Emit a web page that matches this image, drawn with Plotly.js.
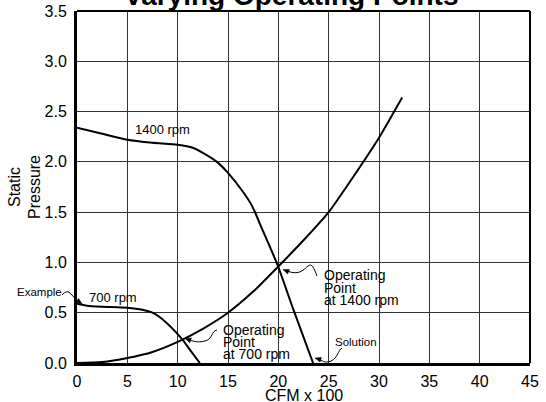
<!DOCTYPE html>
<html>
<head>
<meta charset="utf-8">
<script src="https://cdn.plot.ly/plotly-3.0.1.min.js"></script>
<style>html,body{margin:0;padding:0;background:#fff}#chart{width:546px;height:402px}</style>
</head>
<body>
<div id="chart"></div>
<script>
// ---- data ----
const fan1400X = [0, 2.5, 5, 7.5, 10, 11.5, 12.5, 13.9, 15, 16.5, 17.4, 18.4, 19.9, 21.5, 23.45];
const fan1400Y = [2.34, 2.28, 2.22, 2.19, 2.17, 2.14, 2.09, 2.00, 1.89, 1.70, 1.56, 1.33, 0.98, 0.53, 0.0];
const fan700X = [0, 1, 2.5, 5, 6.5, 7.5, 8.3, 9.2, 10.5, 11.3, 12.2];
const fan700Y = [0.59, 0.57, 0.56, 0.55, 0.53, 0.50, 0.45, 0.37, 0.23, 0.12, 0.0];
const systemX = [0, 2.5, 5, 7.5, 10, 12.5, 15, 17.5, 20, 22.5, 25, 27.5, 30, 32.3];
const systemY = [0, 0.01, 0.05, 0.11, 0.21, 0.34, 0.50, 0.71, 0.96, 1.22, 1.50, 1.86, 2.24, 2.64];
const xTicks = [0, 5, 10, 15, 20, 25, 30, 35, 40, 45];
const yTicks = [0, 0.5, 1.0, 1.5, 2.0, 2.5, 3.0, 3.5];

const W = 546, H = 402;
const M = {l: 77, r: 16, t: 11, b: 39};
const PW = W - M.l - M.r, PH = H - M.t - M.b;
const px = X => (X - M.l) / PW;
const py = Y => (H - M.b - Y) / PH;

const FONT = 'Liberation Sans, Arial, Helvetica, sans-serif';
const lineStyle = {color: 'black', width: 2, shape: 'spline', smoothing: 0.6};

const traces = [
  {x: fan1400X, y: fan1400Y, mode: 'lines', line: lineStyle, name: '1400 rpm', hoverinfo: 'skip'},
  {x: fan700X, y: fan700Y, mode: 'lines', line: lineStyle, name: '700 rpm', hoverinfo: 'skip'},
  {x: systemX, y: systemY, mode: 'lines', line: lineStyle, name: 'System', hoverinfo: 'skip'}
];

// decorative squiggle arrows (pixel positions -> paper)
function pathFrom(cmds) {
  return cmds.map(c => c[0] + ' ' + c.slice(1).reduce((a, v, i) => {
    if (i % 2 === 0) a.push(px(v).toFixed(5)); else a.push(py(v).toFixed(5));
    return a;
  }, []).join(' ')).join(' ');
}
function head(tail, tip) {
  const dx = tip[0] - tail[0], dy = tip[1] - tail[1];
  const L = Math.hypot(dx, dy), ux = dx / L, uy = dy / L;
  const bx = tip[0] - ux * 6, by = tip[1] - uy * 6;
  const nx = -uy * 2.4, ny = ux * 2.4;
  return 'M ' + px(tip[0]) + ' ' + py(tip[1]) + ' L ' + px(bx + nx) + ' ' + py(by + ny) +
         ' L ' + px(bx - nx) + ' ' + py(by - ny) + ' Z';
}
const squiggles = [
  {p: [['M', 62, 295], ['Q', 67, 289, 71, 294], ['T', 80, 302.5]], tail: [76, 299.5], tip: [82, 304]},
  {p: [['M', 217, 330], ['C', 211, 331, 213, 339, 205, 341], ['S', 193, 341, 188, 339.5]], tail: [191, 340.5], tip: [185, 338.5]},
  {p: [['M', 317, 276], ['C', 314, 268, 312, 263, 308, 266], ['S', 300, 276, 287, 271]], tail: [289, 272], tip: [283, 269.5]},
  {p: [['M', 342, 348], ['C', 338, 350, 338, 358, 331, 361], ['S', 322, 360, 318.5, 359]], tail: [321, 359.8], tip: [315, 358]}
];
const shapes = [];
squiggles.forEach(s => {
  shapes.push({type: 'path', xref: 'paper', yref: 'paper', path: pathFrom(s.p), line: {color: 'black', width: 1}});
  shapes.push({type: 'path', xref: 'paper', yref: 'paper', path: head(s.tail, s.tip), line: {color: 'black', width: 0.5}, fillcolor: 'black'});
});
// top and right frame
shapes.push({type: 'line', xref: 'paper', yref: 'paper', x0: 0, x1: 1, y0: 1, y1: 1, line: {color: 'black', width: 2}});
shapes.push({type: 'line', xref: 'paper', yref: 'paper', x0: 1, x1: 1, y0: 0, y1: 1, line: {color: 'black', width: 2}});

function txt(text, X, Y, size, anchor) {
  return {text: text, xref: 'paper', yref: 'paper', x: px(X), y: py(Y), showarrow: false,
          xanchor: anchor || 'center', yanchor: 'middle', borderpad: 0,
          font: {family: FONT, size: size, color: 'black'}};
}
const annotations = [
  {text: '<b>Varying Operating Points</b>', xref: 'paper', yref: 'paper', x: px(291.5), y: py(-4.5),
   showarrow: false, xanchor: 'center', yanchor: 'middle', font: {family: FONT, size: 28, color: 'black'}},
  txt('CFM x 100', 303.5, 395.3, 16),
  txt('1400 rpm', 162, 129, 13),
  txt('700 rpm', 113.3, 297.3, 13),
  txt('Example', 39.5, 291.7, 11.5),
  txt('Solution', 356, 341.7, 11.5),
  txt('Operating', 221.7, 330, 14, 'left'),
  txt('Point', 221.7, 342, 14, 'left'),
  txt('at 700 rpm', 221.7, 353.5, 14, 'left'),
  txt('Operating', 322.7, 275.3, 14, 'left'),
  txt('Point', 322.7, 288, 14, 'left'),
  txt('at 1400 rpm', 322.7, 300.3, 14, 'left')
];

const axisCommon = {
  showgrid: true, gridcolor: '#333', gridwidth: 1, zeroline: false,
  showline: true, linecolor: 'black', linewidth: 3, ticks: '',
  tickfont: {family: FONT, size: 16, color: 'black'}, fixedrange: true
};

const layout = {
  width: W, height: H, margin: M, showlegend: false,
  paper_bgcolor: 'white', plot_bgcolor: 'white',
  xaxis: Object.assign({}, axisCommon, {
    range: [0, 45], tickvals: xTicks, ticktext: xTicks.map(String),
    ticklabelstandoff: 2
  }),
  yaxis: Object.assign({}, axisCommon, {
    range: [0, 3.5], tickvals: yTicks, ticktext: yTicks.map(v => v.toFixed(1)),
    ticklabelstandoff: 4,
    title: {text: 'Static<br>Pressure', font: {family: FONT, size: 16, color: 'black'}, standoff: 0}
  }),
  shapes: shapes,
  annotations: annotations
};

Plotly.newPlot('chart', traces, layout, {staticPlot: true, displayModeBar: false});
</script>
</body>
</html>
